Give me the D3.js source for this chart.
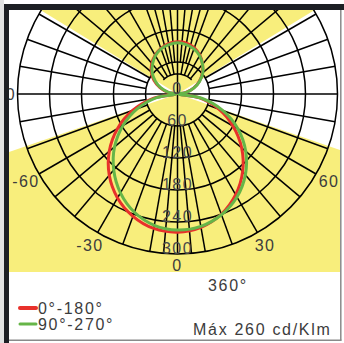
<!DOCTYPE html>
<html><head><meta charset="utf-8">
<script src="https://cdn.jsdelivr.net/npm/d3@7"></script>
<style>body{margin:0;background:#fff}svg{display:block}</style>
</head><body>
<script>
// ---- data (cd/klm) ----
const gammas   = [0,10,20,30,40,50,60,70,80,90,100,110,120,130,140,150,160,170,180];
const red0     = [259,254,240,218,190,157,120,82,42,2,16,32,47,61,73,84,92,97,98];
const red180   = [259,256,244,225,199,167,130,89,45,2,18,35,51,64,75,84,91,96,98];
const green90  = [255,252,241,223,198,167,131,90,46,2,17,33,48,62,73,83,90,94,96];
const green270 = [255,250,236,214,186,154,118,80,41,2,17,33,48,62,73,83,90,94,96];
const ringTicks  = [0,60,120,180,240,300];
const angleTicks = [-90,-60,-30,0,30,60,90];
const legendLabels = ["0°-180°","90°-270°"];
const titleText = "360°";
const maxText = "Máx 260 cd/Klm";

const W = 344, H = 343, cx = 177.5, cy = 94;
const rScale = d3.scaleLinear().domain([0,300]).range([0,160]);
const R = rScale(300);
const YEL = "#f8ee7c", RED = "#e8312b", GREEN = "#66b548", TXT = "#3c3c3c";
const rad = d => d * Math.PI / 180;
const pt = (aDeg, r) => [cx + r * Math.sin(rad(aDeg)), cy + r * Math.cos(rad(aDeg))];

const svg = d3.select("body").append("svg").attr("width", W).attr("height", H);
const defs = svg.append("defs");
defs.append("clipPath").attr("id","cy").append("rect").attr("x",9).attr("y",10).attr("width",331).attr("height",262);
defs.append("clipPath").attr("id","cp").append("rect").attr("x",9).attr("y",10).attr("width",331).attr("height",330);

// ---- yellow sectors ----
const gy = svg.append("g").attr("clip-path","url(#cy)").append("g").attr("transform",`translate(${cx},${cy})`);
const bigArc = d3.arc().innerRadius(0).outerRadius(600);
gy.append("path").attr("d", bigArc({startAngle: rad(-58.5), endAngle: rad(58.5)})).attr("fill", YEL);
gy.append("path").attr("d", bigArc({startAngle: rad(180-71), endAngle: rad(180+71)})).attr("fill", YEL);

// ---- grid ----
const gp = svg.append("g").attr("clip-path","url(#cp)");
const grid = gp.append("g").attr("stroke","#000").attr("stroke-width",1.5).attr("fill","none");
ringTicks.filter(v => v > 0).forEach(v => {
  grid.append("circle").attr("cx",cx).attr("cy",cy).attr("r",rScale(v));
});
const line = d3.line();
const spokes = [];
d3.range(-180, 180, 10).forEach(a => {
  let r0 = rScale(60);
  if (a === 0 || a === -180 || a === 90 || a === -90) r0 = 0;
  else if (Math.abs(a) >= 140) r0 = 20;
  spokes.push([a, r0]);
});
[5,-5,175,-175,165,-165].forEach(a => spokes.push([a, rScale(60)]));
spokes.forEach(([a, r0]) => grid.append("path").attr("d", line([pt(a, r0), pt(a, R)])));
grid.append("path").attr("d", line(d3.range(135, 226, 5).map(a => pt(a, 20))));

// ---- curves ----
function series(rightVals, leftVals) {
  const pts = [];
  gammas.forEach((g, i) => pts.push([Math.PI - rad(g), rScale(rightVals[i])]));
  for (let i = gammas.length - 2; i >= 1; i--) pts.push([Math.PI + rad(gammas[i]), rScale(leftVals[i])]);
  return pts;
}
const radial = d3.lineRadial().angle(d => d[0]).radius(d => d[1]).curve(d3.curveCatmullRomClosed.alpha(0.5));
const gc = gp.append("g").attr("transform",`translate(${cx},${cy})`).attr("fill","none").attr("stroke-width",3);
gc.append("path").attr("d", radial(series(red0, red180))).attr("stroke", RED);
gc.append("path").attr("d", radial(series(green90, green270))).attr("stroke", GREEN);

// ---- labels ----
const font = "Liberation Sans, Arial, Helvetica, sans-serif";
const gl = gp.append("g").attr("font-family", font).attr("font-size", 16).attr("fill", TXT).attr("letter-spacing", 1.4);
ringTicks.forEach(v => {
  gl.append("text").attr("x", cx).attr("y", cy + rScale(v)).attr("text-anchor","middle").attr("fill","#484848").text(v);
});
angleTicks.forEach(a => {
  const [x, y] = pt(a, a === 0 ? 171 : 175);
  gl.append("text").attr("x", x).attr("y", y).attr("dy","0.36em").attr("text-anchor","middle").text(a);
});

// ---- frame ----
svg.append("rect").attr("x",0).attr("y",0).attr("width",4).attr("height",H).attr("fill","#e2e2e2");
svg.append("rect").attr("x",4).attr("y",4).attr("width",W-4).attr("height",6).attr("fill","#1d1f24");
svg.append("rect").attr("x",4).attr("y",4).attr("width",5).attr("height",H-4).attr("fill","#1d1f24");
svg.append("line").attr("x1",340.8).attr("x2",340.8).attr("y1",10).attr("y2",340.5).attr("stroke","#8a8a8a").attr("stroke-width",1.5);
svg.append("line").attr("x1",9).attr("x2",341.5).attr("y1",340.3).attr("y2",340.3).attr("stroke","#8a8a8a").attr("stroke-width",1.5);

// ---- bottom texts & legend ----
const gt = svg.append("g").attr("font-family", font).attr("font-size", 16).attr("fill", TXT).attr("letter-spacing", 1.7);
gt.append("text").attr("x", 208).attr("y", 291).text(titleText);
gt.append("text").attr("x", 193).attr("y", 335).text(maxText);
const legColors = [RED, GREEN], legY = [308, 324], legW = [4, 3];
legendLabels.forEach((t, i) => {
  svg.append("line").attr("x1",20).attr("x2",36).attr("y1",legY[i]).attr("y2",legY[i])
    .attr("stroke",legColors[i]).attr("stroke-width",legW[i]).attr("stroke-linecap","round");
  gt.append("text").attr("x", 38).attr("y", legY[i] + 5.5).text(t);
});
</script>
</body></html>
